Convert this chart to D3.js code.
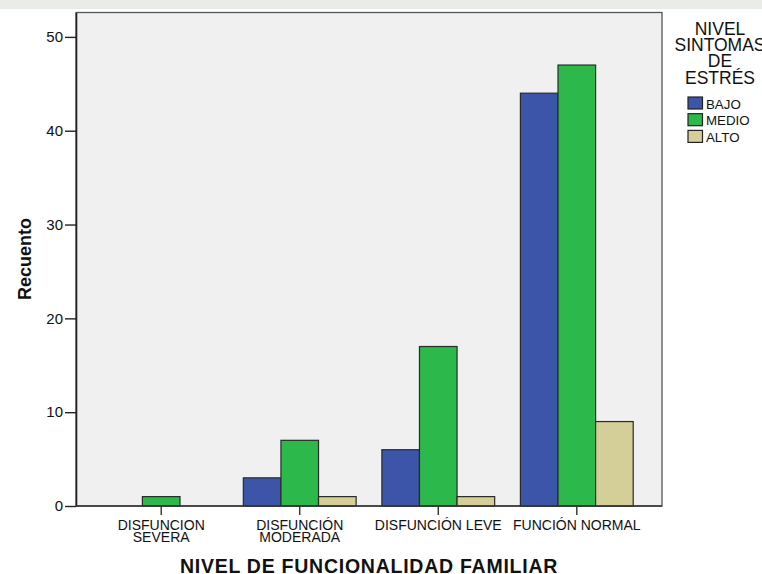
<!DOCTYPE html>
<html>
<head>
<meta charset="utf-8">
<script src="https://cdn.jsdelivr.net/npm/d3@7"></script>
<style>
  body { margin: 0; background: #fff; }
  text { font-family: "Liberation Sans", Arial, sans-serif; fill: #111; }
</style>
</head>
<body>
<svg id="chart" width="762" height="574"></svg>
<script>
// categories and values
var categories = ["DISFUNCION SEVERA", "DISFUNCIÓN MODERADA", "DISFUNCIÓN LEVE", "FUNCIÓN NORMAL"];
var catLines = [["DISFUNCION", "SEVERA"], ["DISFUNCIÓN", "MODERADA"], ["DISFUNCIÓN LEVE"], ["FUNCIÓN NORMAL"]];
var series = ["BAJO", "MEDIO", "ALTO"];
var bajo = [0, 3, 6, 44];
var medio = [1, 7, 17, 47];
var alto = [0, 1, 1, 9];
var yTicks = [0, 10, 20, 30, 40, 50];
var legendTitle = ["NIVEL", "SINTOMAS", "DE", "ESTRÉS"];
var colors = ["#3d55a9", "#2db84b", "#d4cf99"];

var svg = d3.select("#chart");
// note: "top" is taken by window.top, so plot edges get their own names
var plotLeft = 76, plotRight = 662, plotTop = 12.5, plotBottom = 506;

// faded banner strip at the very top
svg.append("rect").attr("x", 0).attr("y", 0).attr("width", 762).attr("height", 9)
	.attr("fill", "#e9ece7");

var x = d3.scaleBand().domain(categories).range([plotLeft, plotRight]).paddingInner(0).paddingOuter(0.115);
var y = d3.scaleLinear().domain([0, 52.6]).range([plotBottom, plotTop]);
var barW = 37.6;
var xs = d3.scaleBand().domain(series).range([-barW * 1.5, barW * 1.5]);

// plot background
svg.append("rect").attr("x", plotLeft).attr("y", plotTop).attr("width", plotRight - plotLeft).attr("height", plotBottom - plotTop)
	.attr("fill", "#f0f0f0").attr("stroke", "#555").attr("stroke-width", 1.3);

var values = [bajo, medio, alto];
series.forEach(function(s, si){
	categories.forEach(function(c, ci){
		var v = values[si][ci];
		if (v === 0) return;
		svg.append("rect")
			.attr("x", x(c) + x.bandwidth() / 2 + xs(s))
			.attr("y", y(v))
			.attr("width", xs.bandwidth())
			.attr("height", y(0) - y(v))
			.attr("fill", colors[si])
			.attr("stroke", "#2a2a2a")
			.attr("stroke-width", 1.2);
	});
});

// y axis
var yAxis = d3.axisLeft(y).tickValues(yTicks).tickSize(11).tickPadding(2).tickSizeOuter(0);
var gy = svg.append("g").attr("transform", "translate(" + plotLeft + ",0)").call(yAxis);
gy.select(".domain").attr("stroke", "#222").attr("stroke-width", 1.6);
gy.selectAll(".tick line").attr("stroke", "#222").attr("stroke-width", 1.4);
gy.selectAll("text").style("font-size", "15px").attr("fill", "#111").attr("font-family", "Liberation Sans, Arial, sans-serif");

// x axis line
svg.append("line").attr("x1", plotLeft).attr("x2", plotRight).attr("y1", plotBottom).attr("y2", plotBottom)
	.attr("stroke", "#333").attr("stroke-width", 1.4);

categories.forEach(function(c, ci){
	var cx = x(c) + x.bandwidth() / 2;
	svg.append("line").attr("x1", cx).attr("x2", cx).attr("y1", plotBottom).attr("y2", plotBottom + 9)
		.attr("stroke", "#333").attr("stroke-width", 1.4);
	catLines[ci].forEach(function(line, li){
		svg.append("text")
			.attr("x", cx)
			.attr("y", 530 + li * 12.4)
			.attr("text-anchor", "middle")
			.style("font-size", "14px")
			.text(line);
	});
});

// axis titles
svg.append("text").attr("x", 369).attr("y", 572.5).attr("text-anchor", "middle")
	.style("font-size", "19.5px").style("font-weight", "bold").style("letter-spacing", "0.75px")
	.text("NIVEL DE FUNCIONALIDAD FAMILIAR");
svg.append("text").attr("transform", "translate(31,259) rotate(-90)").attr("text-anchor", "middle")
	.style("font-size", "18px").style("font-weight", "bold")
	.text("Recuento");

// legend
legendTitle.forEach(function(t, i){
	svg.append("text").attr("x", 720).attr("y", 35 + i * 16.2).attr("text-anchor", "middle")
		.style("font-size", "17.5px").text(t);
});
series.forEach(function(s, i){
	svg.append("rect").attr("x", 688).attr("y", 97 + i * 16.7).attr("width", 14.5).attr("height", 12)
		.attr("fill", colors[i]).attr("stroke", "#222").attr("stroke-width", 1.2);
	svg.append("text").attr("x", 706).attr("y", 108.5 + i * 16.7)
		.style("font-size", "13.3px").text(s);
});
</script>
</body>
</html>
